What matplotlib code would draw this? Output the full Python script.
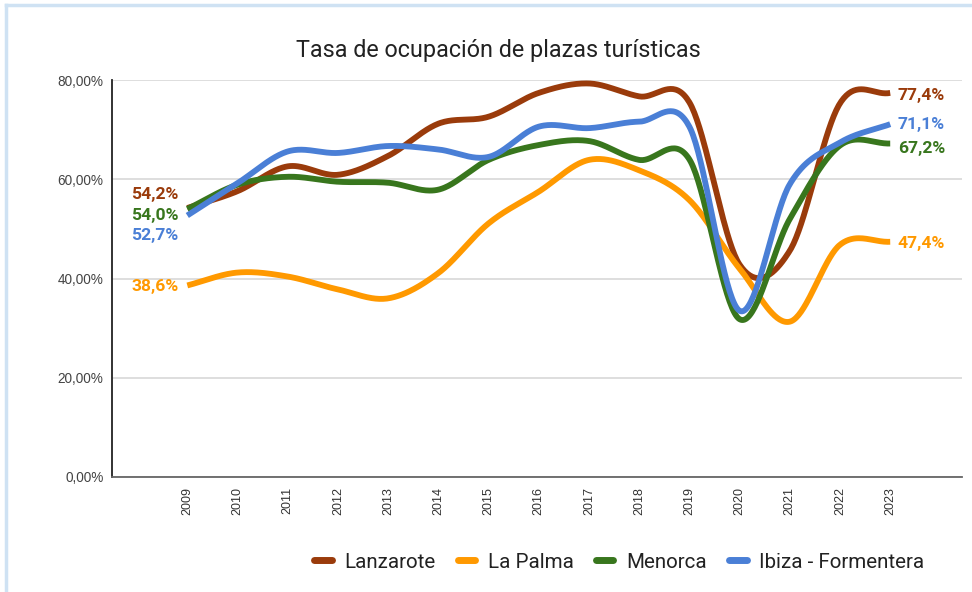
import numpy as np
import matplotlib
matplotlib.use("Agg")
from matplotlib import pyplot as plt
from matplotlib.lines import Line2D

# tasa de ocupación (%) por año
years = list(range(2009, 2024))
lanzarote = [54.2, 57.6, 62.6, 60.9, 64.7, 71.2, 72.6, 77.4, 79.3, 76.7, 75.5, 42.8, 45.6, 75.3, 77.4]
la_palma = [38.6, 41.2, 40.4, 37.8, 36.0, 41.1, 51.1, 57.5, 63.9, 61.8, 55.8, 42.0, 31.3, 46.8, 47.4]
menorca = [54.0, 58.9, 60.5, 59.5, 59.3, 57.9, 63.9, 66.9, 67.7, 63.9, 64.0, 31.8, 52.0, 66.8, 67.2]
ibiza = [52.7, 59.2, 65.6, 65.3, 66.7, 66.0, 64.5, 70.6, 70.3, 71.6, 70.6, 33.5, 59.0, 67.4, 71.1]

names = ["Lanzarote", "La Palma", "Menorca", "Ibiza - Formentera"]
series = [lanzarote, la_palma, menorca, ibiza]
colors = ["#9a3b0b", "#ff9900", "#38761d", "#4a7fd6"]

y_ticks = [0, 20, 40, 60, 80]
y_labels = ["0,00%", "20,00%", "40,00%", "60,00%", "80,00%"]

# label offsets (points) so the end labels don't collide, in series order
left_dy = [9.5, -1.0, -5.0, -14.5]
right_dy = [-2.0, -1.0, -3.8, 0.0]


def smooth(x, y, n=40):
    # cubic hermite curve through every point (catmull-rom tangents)
    x = np.asarray(x, float)
    y = np.asarray(y, float)
    m = np.empty_like(y)
    m[1:-1] = (y[2:] - y[:-2]) / 2
    m[0] = y[1] - y[0]
    m[-1] = y[-1] - y[-2]
    xs, ys = [], []
    t = np.linspace(0, 1, n, endpoint=False)
    h00 = 2 * t**3 - 3 * t**2 + 1
    h10 = t**3 - 2 * t**2 + t
    h01 = -2 * t**3 + 3 * t**2
    h11 = t**3 - t**2
    for i in range(len(x) - 1):
        d = x[i + 1] - x[i]
        xs.append(x[i] + t * d)
        ys.append(h00 * y[i] + h10 * d * m[i] + h01 * y[i + 1] + h11 * d * m[i + 1])
    xs.append([x[-1]])
    ys.append([y[-1]])
    return np.concatenate(xs), np.concatenate(ys)


def pct(v):
    return f"{v:.1f}".replace(".", ",") + "%"


fig = plt.figure(figsize=(9.72, 5.92), dpi=100)
ax = fig.add_axes([112 / 972, 1 - 477 / 592, 850 / 972, 397 / 592])

for vals, col in zip(series, colors):
    sx, sy = smooth(years, vals)
    ax.plot(sx, sy, color=col, lw=4.2, solid_capstyle="butt")

for vals, col, dl, dr in zip(series, colors, left_dy, right_dy):
    lab_font = dict(family="Roboto", weight="bold", size=12.6, color=col)
    ax.annotate(pct(vals[0]), (years[0], vals[0]), xytext=(-6.5, dl),
                textcoords="offset points", ha="right", va="center", **lab_font)
    ax.annotate(pct(vals[-1]), (years[-1], vals[-1]), xytext=(5.5, dr),
                textcoords="offset points", ha="left", va="center", **lab_font)

ax.set_xlim(2007.5, 2024.43)
ax.set_ylim(0, 80)
ax.set_xticks(years)
ax.set_xticklabels([str(y) for y in years], rotation=90, family="Liberation Sans",
                   fontsize=9, color="#333333")
ax.set_yticks(y_ticks)
ax.set_yticklabels(y_labels, family="Liberation Sans", fontsize=9.8, color="#444444")
ax.tick_params(length=0)
ax.tick_params(axis="x", pad=7)
ax.tick_params(axis="y", pad=6)
ax.grid(axis="y", color="#d4d4d4", lw=1.1)
ax.set_axisbelow(True)
for s in ["top", "right"]:
    ax.spines[s].set_visible(False)
ax.spines["left"].set_color("#222222")
ax.spines["left"].set_linewidth(1.3)
ax.spines["bottom"].set_color("#666666")
ax.spines["bottom"].set_linewidth(1.3)

fig.text(498 / 972, 1 - 51 / 592, "Tasa de ocupación de plazas turísticas",
         ha="center", va="center", family="Roboto", fontsize=16.8, color="#222222")

handles = [Line2D([], [], color=c, lw=5, solid_capstyle="round") for c in colors]
fig.legend(handles, names, loc="center", bbox_to_anchor=(619 / 972, 1 - 562 / 592),
           ncol=4, frameon=False, handlelength=0.85, handletextpad=0.6,
           columnspacing=1.1, prop=dict(family="Roboto", size=14.8),
           labelcolor="#222222")

# light blue frame along the top and left edge
fig.add_artist(Line2D([6 / 972, 1], [1 - 5 / 592, 1 - 5 / 592], color="#cfe2f3",
                      lw=2.5, transform=fig.transFigure))
fig.add_artist(Line2D([6 / 972, 6 / 972], [0, 1 - 5 / 592], color="#cfe2f3",
                      lw=2.5, transform=fig.transFigure))

fig.savefig("out.png", dpi=100, facecolor="white")
